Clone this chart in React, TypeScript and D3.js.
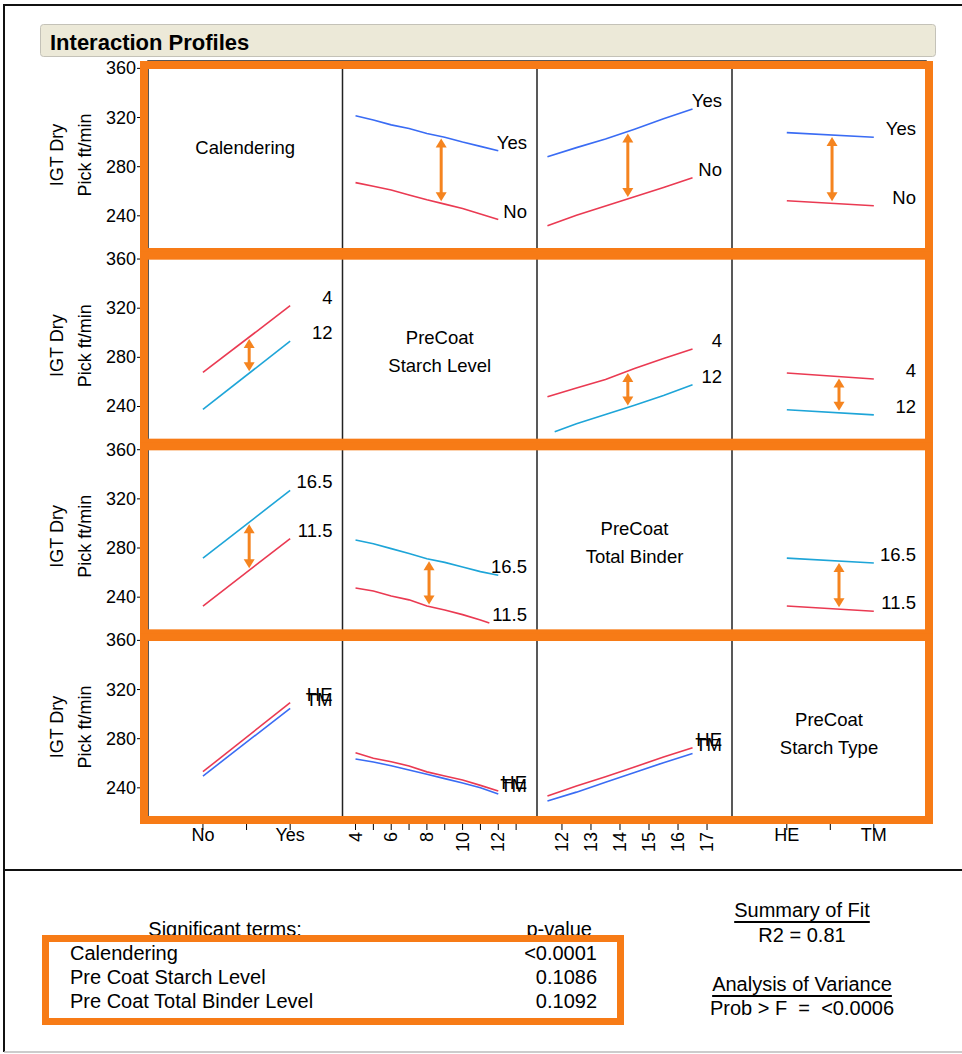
import React from 'react';
import { scaleLinear, line } from 'd3';

// x levels for each factor
const calLevels = ['No', 'Yes'];
const typeLevels = ['HE', 'TM'];
const starchLevels = [4, 5, 6, 7, 8, 9, 10, 11, 12];
const binderLevels = [11.5, 12.5, 13.5, 14.5, 15.5, 16.5];
const starchTicks = [4, 5, 6, 7, 8, 9, 10, 11, 12, 13];
const binderTicks = [12, 13, 14, 15, 16, 17];
const yTicks = [360, 320, 280, 240];

// row 1: Calendering (Yes / No)
const calYesVsStarch = [321.5, 318, 314, 311, 307, 304, 300, 296.5, 293];
const calNoVsStarch = [267, 264, 261, 257, 253, 249.5, 246, 241.5, 237];
const calYesVsBinder = [288, 295.5, 302.5, 310.5, 319, 327];
const calNoVsBinder = [232, 240.5, 248, 255.5, 263, 271];
const calYesVsType = [307.7, 304];
const calNoVsType = [252.3, 248.2];

// row 2: PreCoat Starch Level (4 / 12)
const sl4VsCal = [267.7, 322];
const sl12VsCal = [237.6, 293.2];
const sl4VsBinder = [248, 255, 262, 271, 279, 286.7];
const sl12BinderX = [11.75, 12.5, 13.5, 14.5, 15.5, 16.5];
const sl12VsBinder = [219.4, 226, 233.5, 241, 249, 257.6];
const sl4VsType = [267.3, 262.4];
const sl12VsType = [237.3, 233.2];

// row 3: PreCoat Total Binder (16.5 / 11.5)
const tb165VsCal = [271.8, 326.9];
const tb115VsCal = [232.8, 287.6];
const tb165VsStarch = [286.5, 283.5, 279.5, 275.5, 271.3, 268.3, 264.5, 260.8, 257.8];
const tb115StarchX = [4, 5, 6, 7, 8, 9, 10, 11, 11.5];
const tb115VsStarch = [247.4, 245, 241, 237.8, 232.8, 229.5, 225.8, 221.5, 219];
const tb165VsType = [271.8, 267.8];
const tb115VsType = [232.8, 228.5];

// row 4: PreCoat Starch Type (HE / TM)
const heVsCal = [253.1, 309.4];
const tmVsCal = [249.6, 304.7];
const heVsStarch = [268.6, 264, 261.3, 257.8, 253, 249.7, 246.3, 242, 237.4];
const tmVsStarch = [263.5, 261, 258, 254.5, 251, 247.5, 244, 240, 235];
const heVsBinder = [233.3, 241.5, 249, 257, 265, 272.7];
const tmVsBinder = [229.3, 236.5, 244.5, 252.5, 260.5, 268];

const factorNames = [['Calendering'], ['PreCoat', 'Starch Level'], ['PreCoat', 'Total Binder'], ['PreCoat', 'Starch Type']];

const sigTerms = ['Calendering', 'Pre Coat Starch Level', 'Pre Coat Total Binder Level'];
const pValues = ['<0.0001', '0.1086', '0.1092'];

const BLUE = '#3a6cf4';
const RED = '#ea3a52';
const CYAN = '#1ea5d8';
const ORANGE = '#f77b16';
const ARROW = '#f5841f';
const FONT = '"Liberation Sans", Arial, sans-serif';

const catX = [0, 1];

type Series = { xs: number[]; ys: number[]; color: string; label: string };
type Panel = { row: number; col: number; series: Series[]; arrowAt?: number };

const panels: Panel[] = [
  { row: 0, col: 1, arrowAt: 8.8, series: [
    { xs: starchLevels, ys: calYesVsStarch, color: BLUE, label: 'Yes' },
    { xs: starchLevels, ys: calNoVsStarch, color: RED, label: 'No' }] },
  { row: 0, col: 2, arrowAt: 14.27, series: [
    { xs: binderLevels, ys: calYesVsBinder, color: BLUE, label: 'Yes' },
    { xs: binderLevels, ys: calNoVsBinder, color: RED, label: 'No' }] },
  { row: 0, col: 3, arrowAt: 0.52, series: [
    { xs: catX, ys: calYesVsType, color: BLUE, label: 'Yes' },
    { xs: catX, ys: calNoVsType, color: RED, label: 'No' }] },
  { row: 1, col: 0, arrowAt: 0.53, series: [
    { xs: catX, ys: sl4VsCal, color: RED, label: '4' },
    { xs: catX, ys: sl12VsCal, color: CYAN, label: '12' }] },
  { row: 1, col: 2, arrowAt: 14.27, series: [
    { xs: binderLevels, ys: sl4VsBinder, color: RED, label: '4' },
    { xs: sl12BinderX, ys: sl12VsBinder, color: CYAN, label: '12' }] },
  { row: 1, col: 3, arrowAt: 0.6, series: [
    { xs: catX, ys: sl4VsType, color: RED, label: '4' },
    { xs: catX, ys: sl12VsType, color: CYAN, label: '12' }] },
  { row: 2, col: 0, arrowAt: 0.53, series: [
    { xs: catX, ys: tb165VsCal, color: CYAN, label: '16.5' },
    { xs: catX, ys: tb115VsCal, color: RED, label: '11.5' }] },
  { row: 2, col: 1, arrowAt: 8.12, series: [
    { xs: starchLevels, ys: tb165VsStarch, color: CYAN, label: '16.5' },
    { xs: tb115StarchX, ys: tb115VsStarch, color: RED, label: '11.5' }] },
  { row: 2, col: 3, arrowAt: 0.6, series: [
    { xs: catX, ys: tb165VsType, color: CYAN, label: '16.5' },
    { xs: catX, ys: tb115VsType, color: RED, label: '11.5' }] },
  { row: 3, col: 0, series: [
    { xs: catX, ys: heVsCal, color: RED, label: 'HE' },
    { xs: catX, ys: tmVsCal, color: BLUE, label: 'TM' }] },
  { row: 3, col: 1, series: [
    { xs: starchLevels, ys: heVsStarch, color: RED, label: 'HE' },
    { xs: starchLevels, ys: tmVsStarch, color: BLUE, label: 'TM' }] },
  { row: 3, col: 2, series: [
    { xs: binderLevels, ys: heVsBinder, color: RED, label: 'HE' },
    { xs: binderLevels, ys: tmVsBinder, color: BLUE, label: 'TM' }] },
];

// layout
const colEdges = [148, 342.5, 537, 732, 926];
const rowTop = (r: number) => 61 + r * 190.67;
const panelH = 188;
const axisY = 817;

const xScales = [
  scaleLinear().domain([-0.63, 1.6]).range([colEdges[0], colEdges[1]]),
  scaleLinear().domain([3.27, 14.17]).range([colEdges[1], colEdges[2]]),
  scaleLinear().domain([11.14, 17.86]).range([colEdges[2], colEdges[3]]),
  scaleLinear().domain([-0.63, 1.6]).range([colEdges[3], colEdges[4]]),
];
const yScaleFor = (r: number) =>
  scaleLinear().domain([213, 366]).range([rowTop(r) + panelH, rowTop(r)]);

const interp = (xs: number[], ys: number[], x: number) => {
  for (let i = 0; i < xs.length - 1; i++) {
    if (x >= xs[i] && x <= xs[i + 1]) {
      const t = (x - xs[i]) / (xs[i + 1] - xs[i]);
      return ys[i] + t * (ys[i + 1] - ys[i]);
    }
  }
  return ys[ys.length - 1];
};

const Arrow = ({ x, y1, y2 }: { x: number; y1: number; y2: number }) => {
  const h = 9;
  const w = 5.5;
  return (
    <g fill={ARROW} stroke="none">
      <rect x={x - 1.5} y={y1 + h - 1} width={3} height={Math.max(0, y2 - y1 - 2 * h + 2)} />
      <path d={`M${x},${y1} L${x - w},${y1 + h} L${x + w},${y1 + h} Z`} />
      <path d={`M${x},${y2} L${x - w},${y2 - h} L${x + w},${y2 - h} Z`} />
    </g>
  );
};

const PanelView = ({ p }: { p: Panel }) => {
  const xs = xScales[p.col];
  const ys = yScaleFor(p.row);
  const right = colEdges[p.col + 1];
  let arrow = null;
  if (p.arrowAt !== undefined) {
    const a = p.series.map((s) => ys(interp(s.xs, s.ys, p.arrowAt as number)));
    const top = Math.min(a[0], a[1]) + 2;
    const bot = Math.max(a[0], a[1]) - 2;
    arrow = <Arrow x={xs(p.arrowAt)} y1={top} y2={bot} />;
  }
  return (
    <g>
      {p.series.map((s, i) => {
        const pts: [number, number][] = s.xs.map((x, j) => [x, s.ys[j]]);
        const path = line<[number, number]>()
          .x((d) => xs(d[0]))
          .y((d) => ys(d[1]))(pts);
        const endY = ys(s.ys[s.ys.length - 1]);
        return (
          <g key={i}>
            <path d={path || ''} fill="none" stroke={s.color} strokeWidth={1.6} />
            <text x={right - 10} y={endY - 8.5} textAnchor="end" dominantBaseline="central"
              fontSize={18.5} fill="#000">{s.label}</text>
          </g>
        );
      })}
      {arrow}
    </g>
  );
};

export default function App() {
  const rows = [0, 1, 2, 3];
  return (
    <svg width={962} height={1054} style={{ position: 'absolute', left: 0, top: 0, background: '#fff' }}
      fontFamily={FONT}>
      {/* outer frame */}
      <line x1={4} y1={5} x2={962} y2={5} stroke="#111" strokeWidth={2} />
      <line x1={4} y1={4} x2={4} y2={1052} stroke="#111" strokeWidth={2} />
      <line x1={4} y1={870} x2={962} y2={870} stroke="#111" strokeWidth={2} />
      <line x1={4} y1={1052} x2={962} y2={1052} stroke="#bbb" strokeWidth={1.5} />

      {/* title bar */}
      <rect x={40.5} y={24.5} width={895} height={32} rx={3} fill="#ece9d8" stroke="#c4c2b8" />
      <text x={50} y={42} dominantBaseline="central" fontSize={22} fontWeight="bold" fill="#000">Interaction Profiles</text>

      {/* y axes */}
      {rows.map((r) => {
        const ys = yScaleFor(r);
        const cy = rowTop(r) + 94;
        return (
          <g key={'ya' + r}>
            {yTicks.map((t) => (
              <g key={t}>
                <line x1={137} x2={143} y1={ys(t)} y2={ys(t)} stroke="#000" />
                <text x={136} y={ys(t)} textAnchor="end" dominantBaseline="central" fontSize={18}>{t}</text>
              </g>
            ))}
            <text transform={`translate(57,${cy}) rotate(-90)`} textAnchor="middle" dominantBaseline="central" fontSize={18}>IGT Dry</text>
            <text transform={`translate(85,${cy}) rotate(-90)`} textAnchor="middle" dominantBaseline="central" fontSize={18}>Pick ft/min</text>
          </g>
        );
      })}

      {/* panel grid */}
      {rows.map((r) => (
        <rect key={'pr' + r} x={colEdges[0]} y={rowTop(r)} width={colEdges[4] - colEdges[0]}
          height={r === 3 ? axisY - rowTop(r) : 190.67} fill="none" stroke="#222" strokeWidth={1.5} />
      ))}
      {colEdges.slice(1, 4).map((x) => (
        <line key={'cl' + x} x1={x} x2={x} y1={61} y2={axisY} stroke="#222" strokeWidth={1.5} />
      ))}

      {/* factor names on the diagonal */}
      {factorNames.map((lines, i) => (
        <g key={'fn' + i}>
          {lines.map((t, j) => (
            <text key={j} x={(colEdges[i] + colEdges[i + 1]) / 2} y={rowTop(i) + 86 + j * 28}
              textAnchor="middle" dominantBaseline="central" fontSize={18.5}>{t}</text>
          ))}
        </g>
      ))}

      {panels.map((p, i) => <PanelView key={i} p={p} />)}

      {/* x axes */}
      <g>
        {[0, 0.5, 1].map((t) => (
          <line key={'c1' + t} x1={xScales[0](t)} x2={xScales[0](t)} y1={axisY} y2={830} stroke="#000" />
        ))}
        {calLevels.map((c, i) => (
          <text key={c} x={xScales[0](i)} y={835} textAnchor="middle" dominantBaseline="central" fontSize={18}>{c}</text>
        ))}
        {starchTicks.map((t) => (
          <g key={'s' + t}>
            <line x1={xScales[1](t)} x2={xScales[1](t)} y1={axisY} y2={830} stroke="#000" />
            {t % 2 === 0 && (
              <text transform={`translate(${xScales[1](t)},832) rotate(-90)`} textAnchor="end"
                dominantBaseline="central" fontSize={18}>{t}</text>
            )}
          </g>
        ))}
        {binderTicks.map((t) => (
          <g key={'b' + t}>
            <line x1={xScales[2](t)} x2={xScales[2](t)} y1={axisY} y2={830} stroke="#000" />
            <text transform={`translate(${xScales[2](t)},832) rotate(-90)`} textAnchor="end"
              dominantBaseline="central" fontSize={18}>{t}</text>
          </g>
        ))}
        {[0, 0.5, 1].map((t) => (
          <line key={'c4' + t} x1={xScales[3](t)} x2={xScales[3](t)} y1={axisY} y2={830} stroke="#000" />
        ))}
        {typeLevels.map((c, i) => (
          <text key={c} x={xScales[3](i)} y={835} textAnchor="middle" dominantBaseline="central" fontSize={18}>{c}</text>
        ))}
      </g>

      {/* orange highlight frames */}
      {rows.map((r) => (
        <rect key={'or' + r} x={144} y={rowTop(r) + 4} width={785} height={r === 3 ? 183 : 187}
          fill="none" stroke={ORANGE} strokeWidth={8} />
      ))}

      {/* bottom summary */}
      <text x={225} y={929} textAnchor="middle" dominantBaseline="central" fontSize={20}>Significant terms:</text>
      <text x={592} y={929} textAnchor="end" dominantBaseline="central" fontSize={20}>p-value</text>
      <rect x={45.5} y={938.5} width={575} height={83} fill="#fff" stroke={ORANGE} strokeWidth={7} />
      {sigTerms.map((t, i) => (
        <g key={t}>
          <text x={70} y={953 + i * 24} dominantBaseline="central" fontSize={20}>{t}</text>
          <text x={597} y={953 + i * 24} textAnchor="end" dominantBaseline="central" fontSize={20}>{pValues[i]}</text>
        </g>
      ))}
      <text x={802} y={910} textAnchor="middle" dominantBaseline="central" fontSize={20} textDecoration="underline">Summary of Fit</text>
      <text x={802} y={935} textAnchor="middle" dominantBaseline="central" fontSize={20}>R2 = 0.81</text>
      <text x={802} y={984} textAnchor="middle" dominantBaseline="central" fontSize={20} textDecoration="underline">Analysis of Variance</text>
      <text x={802} y={1008} textAnchor="middle" dominantBaseline="central" fontSize={20} xmlSpace="preserve">Prob &gt; F  =  &lt;0.0006</text>
    </svg>
  );
}
